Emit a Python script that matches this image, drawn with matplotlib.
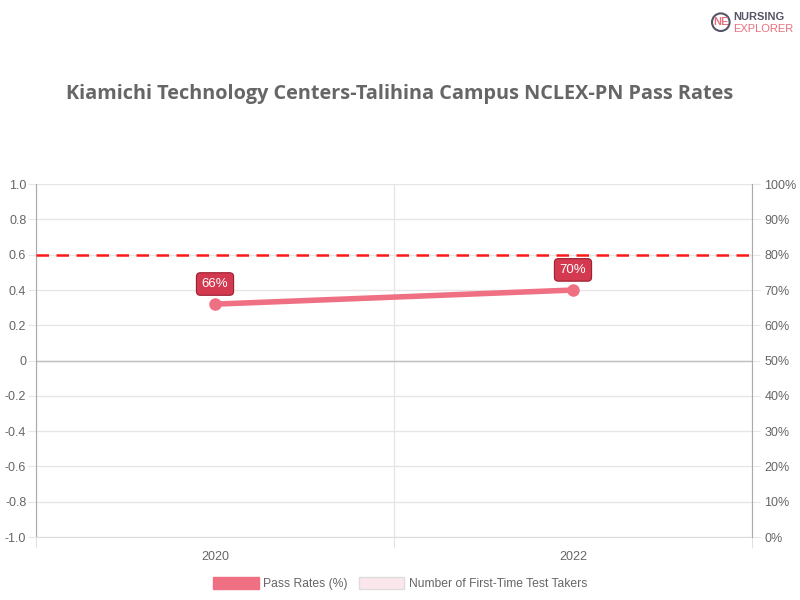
import matplotlib.pyplot as plt
from matplotlib.patches import Patch

years = ["2020", "2022"]
pass_rates = [66, 70]
benchmark = 80
left_ticks = [-1.0, -0.8, -0.6, -0.4, -0.2, 0, 0.2, 0.4, 0.6, 0.8, 1.0]
left_labels = ["-1.0", "-0.8", "-0.6", "-0.4", "-0.2", "0", "0.2", "0.4", "0.6", "0.8", "1.0"]
right_ticks = [0, 10, 20, 30, 40, 50, 60, 70, 80, 90, 100]

title = "Kiamichi Technology Centers-Talihina Campus NCLEX-PN Pass Rates"
line_color = "#F07083"
label_color = "#D3394F"
grey = "#666666"

plt.rcParams["font.family"] = ["Liberation Sans", "DejaVu Sans"]

fig = plt.figure(figsize=(8, 6), dpi=100)
ax = fig.add_axes([0.045, 0.105, 0.895, 0.588])
ax2 = ax.twinx()

x = [i + 0.5 for i in range(len(years))]

ax.set_xlim(0, len(years))
ax.set_ylim(-1, 1)
ax.set_yticks(left_ticks)
ax.set_yticklabels(left_labels)
ax.set_xticks(x)
ax.set_xticklabels(years)
ax.set_xticks(range(len(years) + 1), minor=True)
ax.grid(True, axis="y", color="#e6e6e6", lw=1)
ax.grid(True, axis="x", which="minor", color="#e6e6e6", lw=1)
ax.axhline(0, color="#c0c0c0", lw=1, zorder=2)
ax.tick_params(axis="x", which="major", length=0, pad=10, labelsize=9, labelcolor=grey)
ax.tick_params(axis="x", which="minor", length=8, color="#dddddd")
ax.tick_params(axis="y", length=6, color="#e6e6e6", labelsize=9, labelcolor=grey, pad=1)
for s in ["top", "right"]:
    ax.spines[s].set_visible(False)
ax.spines["left"].set_color("#aaaaaa")
ax.spines["bottom"].set_color("#dddddd")

ax2.set_ylim(0, 100)
ax2.set_yticks(right_ticks)
ax2.set_yticklabels([f"{t}%" for t in right_ticks])
ax2.tick_params(axis="y", length=6, color="#e6e6e6", labelsize=9, labelcolor=grey, pad=3)
for s in ["top", "left", "bottom"]:
    ax2.spines[s].set_visible(False)
ax2.spines["right"].set_color("#aaaaaa")

ax2.axhline(benchmark, color="#ff1a1a", lw=1.8, dashes=(5, 3), zorder=2)
ax2.plot(x, pass_rates, color=line_color, lw=4, marker="o", ms=8,
         solid_capstyle="round", zorder=3)
for xi, v in zip(x, pass_rates):
    ax2.annotate(f"{v}%", (xi, v), xytext=(0, 14.5), textcoords="offset points",
                 ha="center", va="center", fontsize=9.5, color="white",
                 bbox=dict(boxstyle="round,pad=0.4,rounding_size=0.3",
                           fc=label_color, ec="#9a1f30", lw=0.8), zorder=4)

fig.text(0.5, 0.843, title, ha="center", va="center", fontsize=14.3,
         fontweight="bold", color=grey, family=["Open Sans", "DejaVu Sans"])

handles = [Patch(fc=line_color, ec=line_color),
           Patch(fc="#fbe6ec", ec="#dddddd")]
fig.legend(handles, ["Pass Rates (%)", "Number of First-Time Test Takers"],
           loc="center", bbox_to_anchor=(0.5, 0.027), ncol=2, frameon=False,
           fontsize=8.7, labelcolor=grey, handlelength=3.8, handleheight=1.1,
           columnspacing=0.9, handletextpad=0.35)

fig.text(0.917, 0.972, "NURSING", ha="left", va="center", fontsize=8,
         fontweight="bold", color="#555566")
fig.text(0.917, 0.952, "EXPLORER", ha="left", va="center", fontsize=8,
         color="#e8707f")
fig.text(0.901, 0.963, "NE", ha="center", va="center", fontsize=8,
         fontweight="bold", color="#e8707f",
         bbox=dict(boxstyle="circle,pad=0.1", fc="white", ec="#555566", lw=1.5))

fig.savefig("out.png", dpi=100)
